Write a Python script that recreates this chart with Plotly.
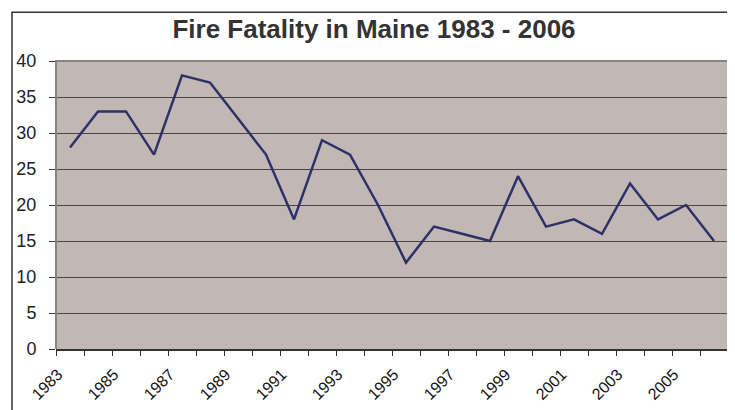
import plotly.graph_objects as go

years = list(range(1983, 2007))
fatalities = [28, 33, 33, 27, 38, 37, 32, 27, 18, 29, 27, 20, 12, 17, 16, 15, 24, 17, 18, 16, 23, 18, 20, 15]
label_years = list(range(1983, 2007, 2))
label_text = [str(y) for y in label_years]
y_ticks = list(range(0, 41, 5))

# page body has an 8px default margin; figure is sized to compensate
OFF = 8
W, H = 735 - OFF, 410 - OFF
L, T = 56 - OFF, 61 - OFF
R = W - (728 - OFF)
B = H - (351 - OFF)
pw, ph = W - L - R, H - T - B

def px(sx):
    return (sx - OFF - L) / pw

def py(sy):
    return (H - B - (sy - OFF)) / ph

fig = go.Figure()
fig.add_trace(go.Scatter(
    x=years, y=fatalities, mode="lines",
    line=dict(color="#2E3168", width=2.5),
    hoverinfo="x+y", showlegend=False,
))

fig.update_layout(
    width=W, height=H,
    margin=dict(l=L, r=R, t=T, b=B),
    paper_bgcolor="white",
    plot_bgcolor="#C1B8B5",
    font=dict(family="Liberation Sans, Arial, sans-serif", color="#222222"),
    title=dict(
        text="<b>Fire Fatality in Maine 1983 - 2006</b>",
        x=(374 - OFF) / W, xref="container", xanchor="center",
        y=1 - (29 - OFF) / H, yref="container", yanchor="middle",
        font=dict(size=26, color="#333333", family="Liberation Sans, Arial, sans-serif"),
    ),
    xaxis=dict(
        range=[1982.5, 2006.5],
        tickmode="array", tickvals=label_years, ticktext=label_text,
        tickangle=-45, ticks="", showgrid=False, zeroline=False,
        tickfont=dict(size=16, color="#111111"),
        ticklabelshift=-12, ticklabelstandoff=8,
        showline=True, linecolor="#333333", linewidth=1.5,
        minor=dict(tick0=1982.5, dtick=1, ticks="outside", ticklen=5,
                   tickcolor="#333333", tickwidth=1, showgrid=False),
        fixedrange=True,
    ),
    yaxis=dict(
        range=[0, 40], tickmode="array", tickvals=y_ticks,
        ticks="outside", ticklen=6, tickcolor="#333333", tickwidth=1,
        showgrid=True, gridcolor="#4A4444", gridwidth=1,
        zeroline=False, showline=False,
        tickfont=dict(size=18, color="#222222"),
        ticklabelstandoff=9,
        fixedrange=True,
    ),
    shapes=[
        dict(type="path", xref="paper", yref="paper",
             path="M 0,0 L 0,1 L 1,1 L 1,0",
             line=dict(color="#8C8282", width=2), layer="above"),
        dict(type="rect", xref="paper", yref="paper",
             x0=px(12), x1=px(745), y0=py(420), y1=py(12),
             line=dict(color="#333333", width=1.5), layer="above"),
    ],
)

fig.write_html("out.html")
